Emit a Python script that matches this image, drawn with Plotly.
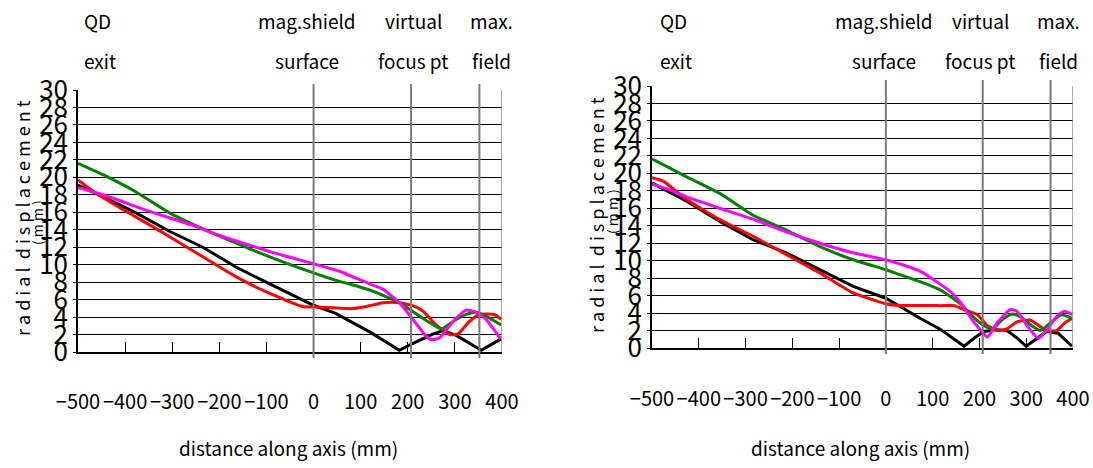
import plotly.graph_objects as go

W, H = 1093, 468

# ---------------- data ----------------
y_ticks = list(range(0, 31, 2))
x_ticks = [-500, -400, -300, -200, -100, 0, 100, 200, 300, 400]
x_tick_labels = ["\u2212500", "\u2212400", "\u2212300", "\u2212200", "\u2212100", "0", "100", "200", "300", "400"]
marker_positions_mm = [0, 207, 352]
marker_labels = [("QD", "exit"), ("mag.shield", "surface"), ("virtual", "focus pt"), ("max.", "field")]

# left chart
L_black_x = [-500, -447, -376, -305, -235, -164, -93, -23, 0, 48, 119, 154, 182, 210, 253, 275, 303, 356, 374, 398]
L_black_y = [19.1, 17.8, 15.9, 13.8, 12.0, 9.7, 7.8, 5.9, 5.35, 4.4, 2.3, 1.15, 0.2, 0.95, 2.05, 2.45, 1.9, 0.2, 0.75, 1.5]

L_red_x = [-500, -465, -401, -327, -235, -164, -93, -23, 0, 83, 119, 147, 182, 210, 232, 260, 289, 306, 331, 352, 384, 398]
L_red_y = [19.7, 18.3, 16.2, 13.9, 10.9, 8.6, 6.7, 5.2, 5.16, 4.97, 5.3, 5.65, 5.65, 5.3, 4.7, 3.1, 2.0, 2.05, 3.5, 4.3, 4.3, 3.75]

L_green_x = [-500, -447, -376, -305, -214, -93, 0, 48, 98, 119, 154, 182, 225, 271, 296, 324, 345, 366, 398]
L_green_y = [21.6, 20.3, 18.3, 15.9, 13.6, 10.9, 9.06, 8.2, 7.45, 7.1, 6.35, 5.65, 4.1, 2.65, 3.5, 4.3, 4.55, 4.1, 3.1]

L_mag_x = [-500, -447, -348, -245, -214, -93, 0, 55, 119, 147, 182, 210, 235, 250, 267, 296, 324, 345, 363, 381, 397]
L_mag_y = [18.8, 18.0, 16.1, 14.3, 13.6, 11.5, 10.1, 9.25, 7.8, 7.2, 5.65, 3.8, 2.05, 1.4, 1.6, 3.5, 4.8, 4.55, 3.9, 2.7, 1.5]

# right chart
R_black_x = [-500, -426, -355, -284, -213, -141, -70, 0, 73, 118, 146, 167, 189, 210, 235, 259, 280, 300, 319, 344, 368, 398]
R_black_y = [18.9, 16.8, 14.5, 12.4, 10.9, 9.0, 7.05, 5.7, 3.4, 2.1, 1.0, 0.2, 1.15, 1.9, 2.1, 2.0, 1.15, 0.2, 0.95, 1.9, 1.7, 0.2]

R_red_x = [-500, -476, -426, -355, -284, -213, -141, -70, 0, 23, 118, 146, 167, 196, 217, 241, 259, 280, 308, 330, 344, 365, 382, 398]
R_red_y = [19.5, 19.1, 17.0, 14.7, 12.8, 10.7, 8.6, 6.3, 5.07, 4.9, 4.85, 4.85, 4.4, 3.8, 2.55, 2.0, 2.2, 3.0, 3.2, 2.45, 2.0, 2.0, 2.85, 3.4]

R_green_x = [-500, -426, -355, -284, -213, -141, -70, 0, 30, 73, 118, 161, 182, 210, 228, 249, 270, 287, 312, 330, 351, 375, 398]
R_green_y = [21.65, 19.6, 17.7, 15.2, 13.5, 11.6, 10.1, 8.96, 8.4, 7.6, 6.6, 5.0, 3.8, 2.55, 2.2, 3.25, 3.9, 3.6, 2.55, 2.0, 2.85, 3.8, 3.4]

R_mag_x = [-500, -462, -426, -355, -284, -213, -141, -70, 0, 37, 73, 108, 139, 161, 182, 205, 217, 238, 266, 280, 308, 326, 344, 368, 382, 398]
R_mag_y = [18.75, 18.1, 17.3, 16.0, 14.75, 13.3, 12.0, 10.9, 10.1, 9.5, 8.8, 7.6, 6.4, 5.1, 3.4, 1.9, 1.25, 2.9, 4.4, 4.2, 2.1, 1.1, 2.1, 3.8, 4.2, 3.8]

# ---------------- figure ----------------
FONT = "Noto Sans CJK JP, Liberation Sans, sans-serif"

fig = go.Figure()

series = [
    ("x", "y", L_black_x, L_black_y, "#000000", "linear"),
    ("x", "y", L_red_x, L_red_y, "#FF0000", "spline"),
    ("x", "y", L_green_x, L_green_y, "#008000", "spline"),
    ("x", "y", L_mag_x, L_mag_y, "#FF00FF", "spline"),
    ("x2", "y2", R_black_x, R_black_y, "#000000", "linear"),
    ("x2", "y2", R_red_x, R_red_y, "#FF0000", "spline"),
    ("x2", "y2", R_green_x, R_green_y, "#008000", "spline"),
    ("x2", "y2", R_mag_x, R_mag_y, "#FF00FF", "spline"),
]
for xa, ya, xs, ys, col, shp in series:
    line = dict(color=col, width=3, shape=shp)
    if shp == "spline":
        line["smoothing"] = 0.5
    fig.add_trace(go.Scatter(x=xs, y=ys, mode="lines", line=line,
                             xaxis=xa, yaxis=ya, showlegend=False, hoverinfo="skip"))

# panel geometry in pixels
panels = [
    dict(x0=78, x1=502, ytop=90, ybot=352, ytl_x=22, ymm_x=37, yt_y=218, ymm_y=223,
         lab_dx=[82, 307, 413, 491], stand=31),
    dict(x0=652, x1=1073, ytop=86, ybot=348, ytl_x=596, ymm_x=612, yt_y=215, ymm_y=212,
         lab_dx=[658, 884, 980, 1058], stand=32),
]

def px(xp):
    return xp / W

def py(yp):
    return 1 - yp / H

shapes = []
annotations = []
for i, p in enumerate(panels):
    sfx = "" if i == 0 else "2"
    xaxis = dict(
        domain=[px(p["x0"]), px(p["x1"])], range=[-500, 400], anchor="y" + sfx, automargin=False,
        showgrid=False, zeroline=False, showline=True, linecolor="black", linewidth=1.5,
        ticks="inside", ticklen=10, tickcolor="black", tickwidth=1, tickangle=0,
        tickvals=x_ticks, ticktext=x_tick_labels, ticklabelstandoff=p["stand"],
        tickfont=dict(family=FONT, size=20, color="black"),
    )
    yaxis = dict(
        domain=[py(p["ybot"]), py(p["ytop"])], range=[0, 30], anchor="x" + sfx, automargin=False,
        showgrid=True, gridcolor="black", gridwidth=1, zeroline=False,
        showline=True, linecolor="black", linewidth=1.5,
        ticks="outside", ticklen=3, tickcolor="black",
        tickvals=y_ticks, tickfont=dict(family=FONT, size=26, color="black"),
    )
    fig.update_layout(**{"xaxis" + sfx: xaxis, "yaxis" + sfx: yaxis})

    # right border
    shapes.append(dict(type="line", xref="x" + sfx, yref="y" + sfx, x0=400, x1=400, y0=0, y1=30,
                       line=dict(color="#8c8c8c", width=1.5)))
    # vertical marker lines, extending slightly beyond the plot area
    for m in marker_positions_mm:
        shapes.append(dict(type="line", xref="x" + sfx, yref="paper", x0=m, x1=m,
                           y0=py(p["ybot"] + 6), y1=py(p["ytop"] - 6),
                           line=dict(color="#7a7a7a", width=2)))
    # top labels
    for j, (l1, l2) in enumerate(marker_labels):
        anchor = "left" if j == 0 else "center"
        for txt, yy in ((l1, 21), (l2, 61)):
            annotations.append(dict(text=txt, xref="paper", yref="paper", x=px(p["lab_dx"][j]), y=py(yy),
                                    xanchor=anchor, yanchor="middle", showarrow=False,
                                    font=dict(family=FONT, size=19, color="black")))
    # y title
    annotations.append(dict(text="r a d i a l  d i s p l a c e m e n t", xref="paper", yref="paper",
                            x=px(p["ytl_x"]), y=py(p["yt_y"]), textangle=-90, showarrow=False,
                            xanchor="center", yanchor="middle",
                            font=dict(family=FONT, size=18, color="black")))
    annotations.append(dict(text="( m m )", xref="paper", yref="paper",
                            x=px(p["ymm_x"]), y=py(p["ymm_y"]), textangle=-90, showarrow=False,
                            xanchor="center", yanchor="middle",
                            font=dict(family=FONT, size=14, color="black")))
    # x title
    annotations.append(dict(text="distance along axis (mm)", xref="paper", yref="paper",
                            x=px((p["x0"] + p["x1"]) / 2 - 2), y=py(447), showarrow=False,
                            xanchor="center", yanchor="middle",
                            font=dict(family=FONT, size=19, color="black")))

fig.update_layout(
    width=W, height=H, margin=dict(l=0, r=0, t=0, b=0, autoexpand=False),
    paper_bgcolor="white", plot_bgcolor="white",
    shapes=shapes, annotations=annotations, showlegend=False,
)

fig.write_html("out.html")
